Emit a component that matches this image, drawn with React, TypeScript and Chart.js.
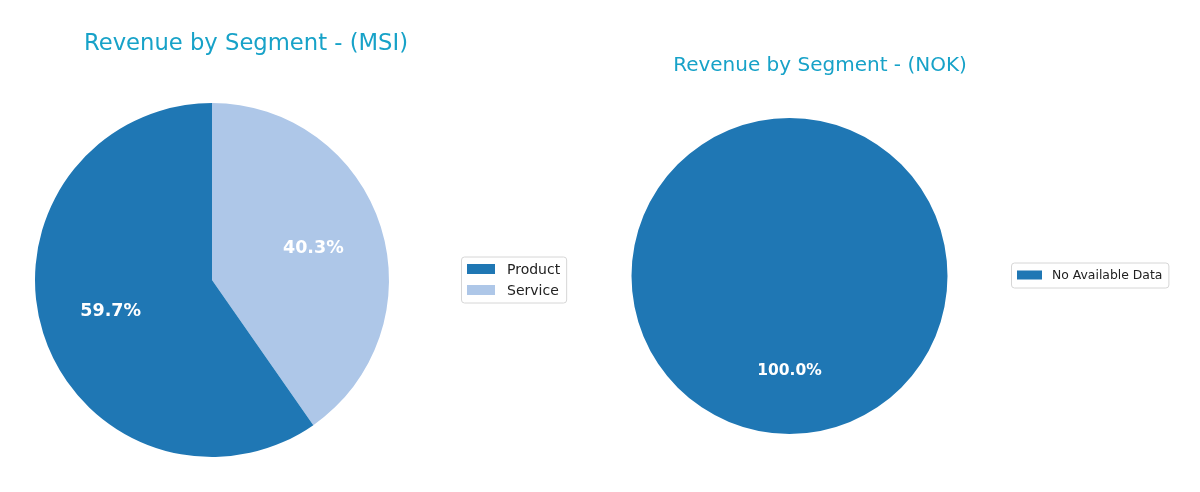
import { useEffect, useRef } from 'react'
import Chart from 'chart.js/auto'

const msiSegments = ['Product', 'Service']
const msiShares = [59.7, 40.3]
const msiColors = ['#1f77b4', '#aec7e8']

const nokSegments = ['No Available Data']
const nokShares = [100]
const nokColors = ['#1f77b4']

const FONT = '"DejaVu Sans", Verdana, sans-serif'
const TITLE_COLOR = '#17a2c8'

type PieProps = {
  title: string
  labels: string[]
  values: number[]
  colors: string[]
  left: number
  padding: { left: number; right: number; top: number; bottom: number }
  titleX: number
  titleY: number
  titleSize: number
  pctSize: number
  legend: {
    x: number
    cy: number
    fontSize: number
    patchW: number
    patchH: number
    rowH: number
    padY: number
    gap: number
  }
}

function PieChart(props: PieProps) {
  const ref = useRef<HTMLCanvasElement>(null)

  useEffect(() => {
    if (!ref.current) return
    const { title, labels, values, colors, padding, titleX, titleY, titleSize, pctSize, legend } = props

    // matplotlib draws counter-clockwise from 12 o'clock, Chart.js goes clockwise
    const order = labels.map((_, i) => i).reverse()

    const overlay = {
      id: 'overlay',
      afterDatasetsDraw(chart: Chart) {
        const ctx = chart.ctx
        const meta = chart.getDatasetMeta(0)
        const data = chart.data.datasets[0].data as number[]
        const total = data.reduce((a, b) => a + b, 0)
        ctx.save()
        ctx.fillStyle = '#ffffff'
        ctx.font = `bold ${pctSize}px ${FONT}`
        ctx.textAlign = 'center'
        ctx.textBaseline = 'middle'
        meta.data.forEach((el, i) => {
          const a = el.getProps(['x', 'y', 'startAngle', 'endAngle', 'outerRadius'], true) as any
          const mid = (a.startAngle + a.endAngle) / 2
          const r = a.outerRadius * 0.6
          ctx.fillText(((data[i] / total) * 100).toFixed(1) + '%', a.x + Math.cos(mid) * r, a.y + Math.sin(mid) * r)
        })
        ctx.restore()
      },
      afterDraw(chart: Chart) {
        const ctx = chart.ctx
        ctx.save()
        // title
        ctx.fillStyle = TITLE_COLOR
        ctx.font = `${titleSize}px ${FONT}`
        ctx.textAlign = 'center'
        ctx.textBaseline = 'middle'
        ctx.fillText(title, titleX, titleY)

        // legend
        ctx.font = `${legend.fontSize}px ${FONT}`
        const textW = Math.max(...labels.map((l) => ctx.measureText(l).width))
        const padX = 6
        const boxW = padX + legend.patchW + legend.gap + textW + padX
        const boxH = labels.length * legend.rowH + legend.padY * 2
        const bx = legend.x
        const by = legend.cy - boxH / 2
        ctx.beginPath()
        ctx.roundRect(bx + 0.5, by + 0.5, boxW, boxH, 3)
        ctx.fillStyle = 'rgba(255,255,255,0.8)'
        ctx.fill()
        ctx.strokeStyle = '#d6d6d6'
        ctx.lineWidth = 1
        ctx.stroke()
        labels.forEach((l, i) => {
          const rowCy = by + legend.padY + legend.rowH * (i + 0.5)
          ctx.fillStyle = colors[i]
          ctx.fillRect(bx + padX, rowCy - legend.patchH / 2, legend.patchW, legend.patchH)
          ctx.fillStyle = '#222222'
          ctx.textAlign = 'left'
          ctx.textBaseline = 'middle'
          ctx.fillText(l, bx + padX + legend.patchW + legend.gap, rowCy + 1)
        })
        ctx.restore()
      },
    }

    const chart = new Chart(ref.current, {
      type: 'pie',
      data: {
        labels: order.map((i) => labels[i]),
        datasets: [
          {
            data: order.map((i) => values[i]),
            backgroundColor: order.map((i) => colors[i]),
            borderWidth: 0,
          },
        ],
      },
      options: {
        responsive: false,
        animation: false,
        layout: { padding },
        plugins: {
          legend: { display: false },
          tooltip: { enabled: false },
          title: { display: false },
        },
      },
      plugins: [overlay],
    })

    return () => chart.destroy()
  }, [props])

  return (
    <canvas
      ref={ref}
      width={600}
      height={492}
      style={{ position: 'absolute', left: props.left, top: 0, width: 600, height: 492 }}
    />
  )
}

const msiProps: PieProps = {
  title: 'Revenue by Segment - (MSI)',
  labels: msiSegments,
  values: msiShares,
  colors: msiColors,
  left: 0,
  padding: { left: 35, right: 211, top: 103, bottom: 35 },
  titleX: 246,
  titleY: 44,
  titleSize: 22.7,
  pctSize: 17.5,
  legend: { x: 461, cy: 279.5, fontSize: 14, patchW: 28, patchH: 10, rowH: 21, padY: 2, gap: 12 },
}

const nokProps: PieProps = {
  title: 'Revenue by Segment - (NOK)',
  labels: nokSegments,
  values: nokShares,
  colors: nokColors,
  left: 600,
  padding: { left: 31, right: 252, top: 118, bottom: 58 },
  titleX: 220,
  titleY: 66,
  titleSize: 20,
  pctSize: 15.5,
  legend: { x: 1011 - 600, cy: 275, fontSize: 12.4, patchW: 25, patchH: 9, rowH: 17, padY: 4, gap: 10 },
}

export default function App() {
  return (
    <div style={{ position: 'absolute', left: 0, top: 0, width: 1200, height: 492, background: '#ffffff' }}>
      <PieChart {...msiProps} />
      <PieChart {...nokProps} />
    </div>
  )
}
